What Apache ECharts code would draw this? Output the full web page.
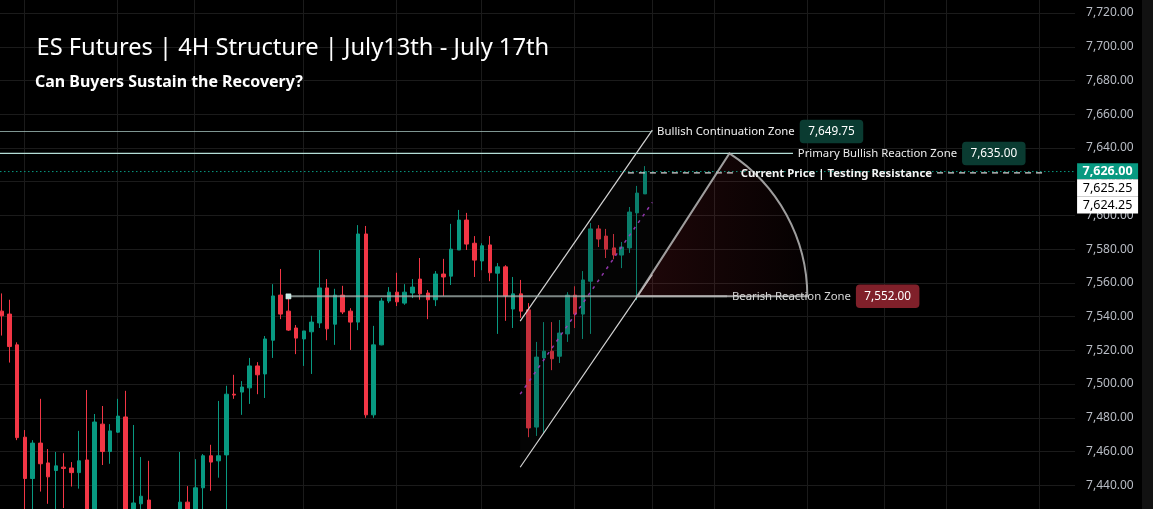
<!DOCTYPE html>
<html>
<head>
<meta charset="utf-8">
<script src="https://cdn.jsdelivr.net/npm/echarts@6/dist/echarts.min.js"></script>
<style>
html,body{margin:0;padding:0;background:#000;}
#chart{width:1153px;height:509px;}
</style>
</head>
<body>
<div id="chart"></div>
<script>
// ================= DATA =================
const titleText = 'ES Futures | 4H Structure | July13th - July 17th';
const subtitleText = 'Can Buyers Sustain the Recovery?';

// 4H candles (oldest -> newest)
const candleOpen = [
  7543.25,7541.5,7523.25,7468.5,7444,7465,7453.25,7448.75,7450.75,7450.25,
  7447.5,7455,7415,7476.25,7460,7471.5,7480.5,7412,7429,7431.25,
  7418,7405,7412,7420,7430,7422,7438.5,7457.5,7454.5,7458,
  7494,7495.25,7497.75,7510.75,7506,7526,7552.75,7543.25,7533.25,7526.75,
  7531,7536.25,7557,7535.5,7552.75,7543.25,7536.75,7589,7481.75,7523.25,
  7549.25,7554.5,7548,7554,7562.25,7554,7550,7565.25,7564,7579.5,
  7597.25,7583.5,7573,7582.5,7565.75,7569.5,7544.5,7553.5,7544,7474.5,
  7515.5,7519.5,7516.5,7529.75,7552.75,7541.5,7561,7592,7587.75,7580.75,
  7576.5,7580.75,7601.5,7612.75
];
const candleClose = [
  7540.5,7522.25,7468.25,7444,7465,7452.75,7445,7451.5,7450,7447.5,
  7454.5,7415,7477.5,7460,7472.25,7481,7412,7429.5,7433.5,7418,
  7405,7412,7420,7430,7420,7438.5,7457.5,7453.75,7457.5,7494,
  7493.5,7498.25,7510.75,7505.5,7526.75,7552.25,7541.5,7532,7527.25,7531.5,
  7536.75,7557,7532.75,7552.75,7542.75,7536.75,7589,7481.75,7523.25,7549.25,
  7554.5,7548.75,7554.5,7557.5,7553.5,7550,7565.25,7563.5,7580,7597.25,
  7583,7573.5,7582,7566,7569.5,7552.25,7553.5,7543.25,7474,7516,
  7519.5,7515,7530.25,7552.75,7541.5,7561.75,7592,7586,7580,7576.5,
  7581.25,7602,7613.25,7626
];
const candleLow = [
  7528.75,7512.75,7466.75,7418,7422,7436.25,7429,7425,7426.5,7439.25,
  7438,7405,7405,7452,7452.75,7471,7405,7405,7420,7410,
  7395,7398,7406,7415,7412,7416,7420,7436.75,7444.5,7424,
  7491.25,7481.75,7488.25,7494,7491.75,7515.5,7538.5,7531.5,7517.75,7510.75,
  7506,7533.25,7526,7523.25,7541.5,7520.25,7532,7480,7480,7523,
  7548,7546.25,7547,7551,7550,7538.5,7546.25,7552.25,7558.75,7579.5,
  7579.5,7563.5,7567.5,7561,7529.75,7537.5,7533.25,7539.25,7468.5,7469.25,
  7470.5,7508.25,7512.5,7525,7533.25,7526.75,7529.75,7581.25,7574.75,7574,
  7568.75,7577.75,7549.75,7612.75
];
const candleHigh = [
  7553.75,7550,7524.75,7472.75,7466.75,7491.25,7461.5,7459.75,7459,7453.75,
  7472.25,7496.5,7482.25,7487,7476.25,7491.25,7496,7475.75,7456.75,7454.5,
  7424,7420,7424,7459.75,7439.5,7455.5,7458.5,7464,7490,7499,
  7505.5,7501.75,7515.5,7513,7528.5,7559.25,7568.25,7550.75,7535,7531.5,
  7540.5,7579.5,7562.25,7556.5,7558.25,7545,7594.25,7593.75,7534.5,7551,
  7557.5,7566,7559.25,7562.25,7574.75,7555.75,7567,7574.25,7595,7603.25,
  7601.5,7587.75,7583.5,7587.75,7571.75,7570.5,7563.5,7561.75,7548,7525,
  7536.75,7536.75,7538,7554.5,7558,7567,7595.5,7594.25,7592,7589,
  7584.25,7605,7617.5,7629.25
];
const futureBars = 55;                       // empty right-hand space (bars)
const timeGridIdx = [3,15,25,39,51,62,74,84,92,104,114,122,134];
const priceMin = 7420, priceMax = 7740, priceStep = 20;

const currentPrice = 7626.00;
const axisTags = [7625.25, 7624.25];

// Drawings (bar index, price)
const zoneBullishCont = {label: 'Bullish Continuation Zone', tag: '7,649.75', level: 7649.75, from: -1, to: 83.95};
const zonePrimary     = {label: 'Primary Bullish Reaction Zone', tag: '7,635.00', level: 7636.75, from: -1, to: 102.1};
const zoneBearish     = {label: 'Bearish Reaction Zone', tag: '7,552.00', level: 7552.00, from: 37, to: 93.6};
const currentNote     = {label: 'Current Price | Testing Resistance', level: 7625.25, from: 80.8, to: 134.6};
const channelUpper = [[66.9, 7537.3], [83.95, 7650.6]];
const channelLower = [[66.9, 7450.7], [83.95, 7564.9]];
const arcCenter = [82, 7552];
const arcTop = [93.9, 7636.75];

// ================= CHART =================
const barCount = candleOpen.length + futureBars;
const categories = Array.from({length: barCount}, (_, i) => 'Bar ' + (i + 1));
const ohlc = candleOpen.map((o, i) => [o, candleClose[i], candleLow[i], candleHigh[i]]);

const FONT = '"Noto Sans", "Open Sans", sans-serif';
const UP = '#089981', DOWN = '#f23645';
const fmt = v => v.toLocaleString('en-US', {minimumFractionDigits: 2, maximumFractionDigits: 2});

const bw = 7.75;
const chart = echarts.init(document.getElementById('chart'), null, {renderer: 'canvas'});
chart.setOption({
  backgroundColor: '#000',
  animation: false,
  grid: {left: -2.175, top: -20.7, width: bw * barCount, height: 539.7, outerBoundsMode: 'none', containLabel: false},
  xAxis: {
    type: 'category', data: categories, boundaryGap: true,
    axisLine: {show: false}, axisTick: {show: false}, axisLabel: {show: false}, splitLine: {show: false}
  },
  yAxis: {
    type: 'value', position: 'right', min: priceMin, max: priceMax, interval: priceStep,
    axisLine: {show: false}, axisTick: {show: false},
    splitLine: {show: true, lineStyle: {color: '#1b1b1b', width: 1}},
    axisLabel: {color: '#b8bcc4', fontSize: 12, fontFamily: FONT, margin: 11, formatter: fmt}
  },
  series: [{
    type: 'candlestick', data: ohlc, barWidth: 4, z: 2,
    itemStyle: {color: UP, color0: DOWN, borderColor: UP, borderColor0: DOWN, borderWidth: 1}
  }]
});

// ---------- annotations ----------
const mctx = document.createElement('canvas').getContext('2d');
function textW(t, font) { mctx.font = font; return mctx.measureText(t).width; }
function fit(t, weight, target) { return 100 * target / textW(t, weight + ' 100px ' + FONT); }

function px(i, p) {
  const a = chart.convertToPixel({xAxisIndex: 0}, 0);
  const b = chart.convertToPixel({xAxisIndex: 0}, 1);
  const y = chart.convertToPixel({yAxisIndex: 0}, p);
  return [a + (b - a) * i, y];
}

const g = [];
const W = chart.getWidth(), H = chart.getHeight();
const plotRight = px(barCount - 0.5, 0)[0];

// vertical time grid
timeGridIdx.forEach(i => {
  const x = Math.round(px(i, 0)[0]) - 0.5;
  g.push({type: 'line', z: 0, silent: true, shape: {x1: x, y1: 0, x2: x, y2: H},
          style: {stroke: '#1b1b1b', lineWidth: 1}});
});

function txt(text, x, y, font, fill, align, z) {
  return {type: 'text', z: z || 8, silent: true, x: x, y: y,
          style: {text: text, font: font, fill: fill, align: align || 'left', verticalAlign: 'middle',
                  textAlign: align || 'left', textVerticalAlign: 'middle'}};
}

// title
const titleSize = fit(titleText, 'normal', 513);
const subSize = fit(subtitleText, 'bold', 268);
g.push(txt(titleText, 36.5, 48.5, 'normal ' + titleSize + 'px ' + FONT, '#ffffff', 'left', 20));
g.push(txt(subtitleText, 35, 82.5, 'bold ' + subSize + 'px ' + FONT, '#ffffff', 'left', 20));

const labSize = fit(zonePrimary.label, 'normal', 159.4);
const labFont = 'normal ' + labSize + 'px ' + FONT;
const tagSize = fit('7,649.75', 'normal', 46.7);
const tagTextFont = 'normal ' + tagSize + 'px ' + FONT;
const curSize = fit(currentNote.label, 'bold', 191.6);
const curFont = 'bold ' + curSize + 'px ' + FONT;

// channel fill (dims candles inside)
const u0 = px(...channelUpper[0]), u1 = px(...channelUpper[1]);
const l0 = px(...channelLower[0]), l1 = px(...channelLower[1]);
g.push({type: 'polygon', z: 3, silent: true, shape: {points: [u0, u1, l1, l0]},
        style: {fill: 'rgba(22,22,22,0.2)'}});
g.push({type: 'line', z: 4, silent: true, shape: {x1: u0[0], y1: u0[1], x2: u1[0], y2: u1[1]},
        style: {stroke: '#d4d4d4', lineWidth: 1.2}});
g.push({type: 'line', z: 4, silent: true, shape: {x1: l0[0], y1: l0[1], x2: l1[0], y2: l1[1]},
        style: {stroke: '#d4d4d4', lineWidth: 1.2}});
g.push({type: 'line', z: 4, silent: true,
        shape: {x1: (u0[0] + l0[0]) / 2, y1: (u0[1] + l0[1]) / 2, x2: (u1[0] + l1[0]) / 2, y2: (u1[1] + l1[1]) / 2},
        style: {stroke: 'rgba(160,60,190,0.9)', lineWidth: 1.5, lineDash: [3, 5]}});

// current price dotted line (full width)
const cy = px(0, currentPrice)[1];
g.push({type: 'line', z: 4, silent: true, shape: {x1: 0, y1: cy, x2: plotRight, y2: cy},
        style: {stroke: UP, lineWidth: 1, lineDash: [1.5, 2.5]}});

// zone lines with label + tag
function zone(zd, lineStyle, textFill, tagFill) {
  const a = px(zd.from, zd.level), b = px(zd.to, zd.level);
  g.push({type: 'line', z: 5, silent: true, shape: {x1: a[0], y1: a[1], x2: b[0], y2: b[1]}, style: lineStyle});
  const tx = b[0] + 4.8;
  const tw = textW(zd.label, labFont);
  g.push(txt(zd.label, tx, b[1], labFont, textFill, 'left', 8));
  const bx = tx + tw + 5;
  const tagW = 63.5, tagH = 23.5;
  g.push({type: 'rect', z: 9, silent: true, shape: {x: bx, y: b[1] - tagH / 2, width: tagW, height: tagH, r: 4},
          style: {fill: tagFill}});
  g.push(txt(zd.tag, bx + tagW / 2, b[1] + 0.5, tagTextFont, '#ffffff', 'center', 10));
}
zone(zoneBullishCont, {stroke: 'rgba(170,200,195,0.75)', lineWidth: 1.2}, '#f0f0f0', '#0a3b31');
zone(zonePrimary, {stroke: '#b5ded7', lineWidth: 1.2}, '#ececec', '#0a3b31');
zone(zoneBearish, {stroke: 'rgba(165,180,178,0.75)', lineWidth: 2}, '#d6d6d6', '#80202a');

// square handle at bearish line start
const hs = px(zoneBearish.from, zoneBearish.level);
g.push({type: 'rect', z: 9, silent: true, shape: {x: hs[0] - 2.5, y: hs[1] - 2.5, width: 5, height: 5},
        style: {fill: '#c6ece6', stroke: '#e8fbf8', lineWidth: 0.6}});

// arc / sector
const c = px(...arcCenter), t = px(...arcTop);
const r = Math.hypot(t[0] - c[0], t[1] - c[1]);
const ang = Math.atan2(t[1] - c[1], t[0] - c[0]);
g.push({type: 'sector', z: 7, silent: true,
        shape: {cx: c[0], cy: c[1], r: r, r0: 0, startAngle: ang, endAngle: 0, clockwise: true},
        style: {fill: {type: 'linear', x: 0, y: 0, x2: 1, y2: 0,
                       colorStops: [{offset: 0, color: 'rgba(242,54,69,0.13)'}, {offset: 1, color: 'rgba(242,54,69,0.02)'}]},
                stroke: 'rgba(185,185,185,0.85)', lineWidth: 2}});

// current price note (dashed line with centered text)
const na = px(currentNote.from, currentNote.level), nb = px(currentNote.to, currentNote.level);
const nmid = (na[0] + nb[0]) / 2, nw = textW(currentNote.label, curFont);
g.push({type: 'line', z: 6, silent: true, shape: {x1: na[0], y1: na[1], x2: nmid - nw / 2 - 7, y2: na[1]},
        style: {stroke: '#d8d8d8', lineWidth: 1.2, lineDash: [6, 5]}});
g.push({type: 'line', z: 6, silent: true, shape: {x1: nmid + nw / 2 + 5, y1: na[1], x2: nb[0], y2: na[1]},
        style: {stroke: '#d8d8d8', lineWidth: 1.2, lineDash: [6, 5]}});
g.push(txt(currentNote.label, nmid, na[1] + 1, curFont, '#f4f4f4', 'center', 10));

// right axis price tags
const tagX = plotRight + 2, tagWd = 61;
const tagFont = '12.5px ' + FONT;
g.push({type: 'rect', z: 12, silent: true, shape: {x: tagX, y: cy - 8.2, width: tagWd, height: 15.8}, style: {fill: UP}});
g.push(txt(fmt(currentPrice), tagX + tagWd / 2, cy, 'bold ' + tagFont, '#ffffff', 'center', 13));
let ty = cy + 7.6;
axisTags.forEach(v => {
  g.push({type: 'rect', z: 12, silent: true, shape: {x: tagX, y: ty, width: tagWd, height: 17.2}, style: {fill: '#ffffff'}});
  g.push(txt(fmt(v), tagX + tagWd / 2, ty + 8.8, tagFont, '#000000', 'center', 13));
  ty += 17.2;
});

// right edge strip
g.push({type: 'rect', z: 12, silent: true, shape: {x: 1142, y: 0, width: W - 1142, height: H}, style: {fill: '#121212'}});

chart.setOption({graphic: {elements: g}});
</script>
</body>
</html>
